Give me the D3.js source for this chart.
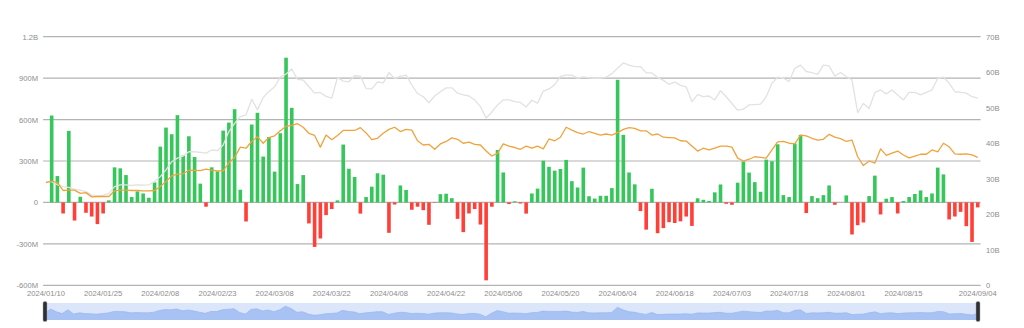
<!DOCTYPE html>
<html>
<head>
<meta charset="utf-8">
<script src="https://cdn.jsdelivr.net/npm/d3@7"></script>
<style>
  html, body { margin: 0; padding: 0; background: #fff; }
  svg { display: block; }
  text { font-family: "Liberation Sans", Arial, sans-serif; }
</style>
</head>
<body>
<svg id="chart" width="1024" height="328"></svg>
<script>
// Trading days on the category axis
const dates = [
  "2024/01/10","2024/01/11","2024/01/12","2024/01/16","2024/01/17","2024/01/18","2024/01/19","2024/01/22","2024/01/23","2024/01/24",
  "2024/01/25","2024/01/26","2024/01/29","2024/01/30","2024/01/31","2024/02/01","2024/02/02","2024/02/05","2024/02/06","2024/02/07",
  "2024/02/08","2024/02/09","2024/02/12","2024/02/13","2024/02/14","2024/02/15","2024/02/16","2024/02/20","2024/02/21","2024/02/22",
  "2024/02/23","2024/02/26","2024/02/27","2024/02/28","2024/02/29","2024/03/01","2024/03/04","2024/03/05","2024/03/06","2024/03/07",
  "2024/03/08","2024/03/11","2024/03/12","2024/03/13","2024/03/14","2024/03/15","2024/03/18","2024/03/19","2024/03/20","2024/03/21",
  "2024/03/22","2024/03/25","2024/03/26","2024/03/27","2024/03/28","2024/04/01","2024/04/02","2024/04/03","2024/04/04","2024/04/05",
  "2024/04/08","2024/04/09","2024/04/10","2024/04/11","2024/04/12","2024/04/15","2024/04/16","2024/04/17","2024/04/18","2024/04/19",
  "2024/04/22","2024/04/23","2024/04/24","2024/04/25","2024/04/26","2024/04/29","2024/04/30","2024/05/01","2024/05/02","2024/05/03",
  "2024/05/06","2024/05/07","2024/05/08","2024/05/09","2024/05/10","2024/05/13","2024/05/14","2024/05/15","2024/05/16","2024/05/17",
  "2024/05/20","2024/05/21","2024/05/22","2024/05/23","2024/05/24","2024/05/28","2024/05/29","2024/05/30","2024/05/31","2024/06/03",
  "2024/06/04","2024/06/05","2024/06/06","2024/06/07","2024/06/10","2024/06/11","2024/06/12","2024/06/13","2024/06/14","2024/06/17",
  "2024/06/18","2024/06/20","2024/06/21","2024/06/24","2024/06/25","2024/06/26","2024/06/27","2024/06/28","2024/07/01","2024/07/02",
  "2024/07/03","2024/07/05","2024/07/08","2024/07/09","2024/07/10","2024/07/11","2024/07/12","2024/07/15","2024/07/16","2024/07/17",
  "2024/07/18","2024/07/19","2024/07/22","2024/07/23","2024/07/24","2024/07/25","2024/07/26","2024/07/29","2024/07/30","2024/07/31",
  "2024/08/01","2024/08/02","2024/08/05","2024/08/06","2024/08/07","2024/08/08","2024/08/09","2024/08/12","2024/08/13","2024/08/14",
  "2024/08/15","2024/08/16","2024/08/19","2024/08/20","2024/08/21","2024/08/22","2024/08/23","2024/08/26","2024/08/27","2024/08/28",
  "2024/08/29","2024/08/30","2024/09/03","2024/09/04"
];

// Labelled dates on the x axis
const xTickLabels = [
  "2024/01/10","2024/01/25","2024/02/08","2024/02/23","2024/03/08","2024/03/22","2024/04/08","2024/04/22",
  "2024/05/06","2024/05/20","2024/06/04","2024/06/18","2024/07/03","2024/07/18","2024/08/01","2024/08/15","2024/09/04"
];

// Daily net flow, millions (left axis)
const netFlow = [
  null, 629, 191, -80, 518, -131, 41, -75, -102, -157,
  -80, 15, 254, 247, 198, 39, 80, 65, 34, 145,
  404, 542, 494, 632, 339, 479, 329, 136, -31, 254,
  225, 520, 578, 675, 92, -138, 564, 649, 332, 474,
  223, 501, 1048, 685, 133, 198, -152, -322, -261, -92,
  -48, 15, 419, 244, 184, -81, 39, 114, 211, 201,
  -220, -15, 123, 90, -53, -31, -56, -162, -3, 60,
  63, 31, -119, -215, -80, -48, -160, -564, -31, 380,
  217, -12, 8, -8, -81, 65, 100, 302, 258, 230,
  242, 308, 154, 108, 252, 45, 28, 48, 48, 104,
  888, 489, 217, 131, -63, -197, 99, -223, -186, -143,
  -149, -137, -102, -170, 30, 19, 11, 73, 130, -10,
  -17, 143, 296, 216, 147, 77, 310, 298, 421, 53,
  39, 426, 489, -77, 46, 31, 53, 123, -17, null,
  51, -232, -165, -145, 46, 194, -87, 27, 39, -80,
  10, 39, 61, 87, 39, 65, 252, 203, -123, -102,
  -68, -172, -286, -36
];

// Total net assets, billions (right axis, light grey line)
const netAssets = [
  29.2, 29.2, 28.3, 27.8, 27.6, 27.0, 26.8, 26.4, 25.4, 25.2,
  25.3, 25.9, 27.8, 28.3, 28.3, 28.1, 28.3, 28.2, 28.3, 29.2,
  30.6, 32.5, 34.8, 35.8, 36.4, 37.6, 37.6, 37.4, 37.2, 38.1,
  37.9, 39.5, 43.3, 45.6, 47.5, 48.0, 52.4, 49.4, 52.9, 54.6,
  55.9, 58.6, 59.5, 60.9, 58.0, 57.8, 55.9, 54.1, 54.3, 53.2,
  52.7, 58.5, 57.5, 57.3, 59.0, 58.9, 55.4, 55.3, 57.3, 57.0,
  59.9, 58.2, 58.9, 59.2, 56.4, 54.0, 53.1, 51.4, 53.3, 54.5,
  55.6, 55.6, 54.1, 53.6, 53.3, 52.2, 50.3, 47.1, 48.8, 50.8,
  52.2, 52.2, 51.7, 51.5, 50.2, 52.1, 51.3, 54.7, 55.3, 56.5,
  58.8, 59.2, 59.2, 58.3, 58.7, 58.4, 58.3, 58.3, 58.6, 59.6,
  61.1, 62.6, 62.0, 61.6, 61.6, 59.8, 59.8, 58.5, 57.7, 56.6,
  57.2, 56.3, 55.9, 51.7, 53.7, 53.1, 53.3, 52.2, 54.8, 53.1,
  51.2, 49.3, 49.6, 50.8, 50.9, 51.0, 53.1, 56.9, 58.6, 58.3,
  57.4, 61.1, 62.0, 60.2, 59.9, 59.4, 62.0, 61.8, 58.9, 59.9,
  58.8, 57.8, 48.6, 51.2, 49.8, 54.3, 55.0, 53.9, 55.0, 53.6,
  52.2, 54.3, 54.3, 53.6, 54.3, 55.0, 58.3, 58.6, 56.9, 54.5,
  54.3, 54.1, 53.1, 52.7
];

// Price line, right axis scale (orange line)
const priceLine = [
  28.9, 29.3, 28.9, 26.7, 26.8, 26.8, 25.9, 26.1, 24.9, 25.0,
  25.0, 25.0, 26.6, 26.8, 26.8, 26.7, 26.7, 26.6, 26.6, 26.7,
  27.8, 29.2, 30.8, 31.3, 31.4, 32.4, 32.4, 32.3, 32.7, 32.4,
  32.2, 32.2, 34.5, 36.0, 38.9, 38.6, 40.5, 41.8, 40.0, 41.6,
  42.1, 43.5, 44.8, 45.0, 45.5, 44.5, 42.8, 42.2, 38.9, 42.3,
  41.0, 42.2, 43.6, 43.6, 43.6, 44.4, 42.9, 41.0, 41.4, 42.8,
  43.9, 44.5, 43.3, 43.9, 43.7, 40.7, 39.5, 39.7, 38.3, 39.8,
  40.5, 41.5, 41.1, 40.0, 40.3, 39.7, 39.5, 37.8, 36.4, 37.2,
  39.8, 39.2, 38.8, 38.3, 39.2, 38.6, 39.2, 38.4, 41.2, 40.7,
  41.7, 44.5, 43.7, 43.0, 42.6, 43.3, 42.8, 42.3, 42.6, 42.3,
  43.0, 43.9, 44.4, 44.2, 43.5, 43.5, 42.3, 42.6, 41.7, 41.6,
  41.5, 40.7, 40.6, 39.2, 37.8, 38.6, 38.1, 38.6, 39.2, 39.2,
  38.9, 35.8, 35.0, 35.5, 36.2, 36.0, 35.8, 38.1, 40.4, 40.5,
  40.0, 39.8, 42.3, 42.1, 41.4, 40.9, 41.1, 42.5, 41.7, 41.3,
  40.5, 40.9, 36.2, 33.7, 35.0, 34.4, 38.4, 36.6, 37.2, 37.8,
  36.7, 35.9, 36.4, 36.9, 36.9, 38.1, 37.6, 40.0, 39.0, 37.0,
  36.9, 37.0, 36.7, 36.0
];

// Axis ticks
const leftTicks = [-600, -300, 0, 300, 600, 900, 1200];
const leftTickLabels = ["-600M", "-300M", "0", "300M", "600M", "900M", "1.2B"];
const rightTicks = [0, 10, 20, 30, 40, 50, 60, 70];
const rightTickLabels = ["0", "10B", "20B", "30B", "40B", "50B", "60B", "70B"];

// ---- layout ----
const W = 1024, H = 328;
const plot = { left: 43.1, right: 980.6, top: 36.7, bottom: 285.3 };
const slider = { left: 45, right: 978, top: 303, bottom: 320 };

const svg = d3.select("#chart");

const x = d3.scaleBand().domain(dates).range([plot.left, plot.right]).padding(0);
const bw = x.bandwidth();
const cx = d => x(d) + bw / 2;
const yL = d3.scaleLinear().domain([-600, 1200]).range([plot.bottom, plot.top]);
const yR = d3.scaleLinear().domain([0, 70]).range([plot.bottom, plot.top]);

// horizontal grid lines
svg.append("g").selectAll("line").data(leftTicks).join("line")
  .attr("x1", plot.left).attr("x2", plot.right)
  .attr("y1", d => yL(d)).attr("y2", d => yL(d))
  .attr("stroke", "#b3b3b3").attr("stroke-width", 1.2);

// left axis labels
const leftAxis = d3.axisLeft(yL).tickValues(leftTicks)
  .tickFormat((d, i) => leftTickLabels[i]).tickSize(0).tickPadding(5);
svg.append("g").attr("transform", `translate(${plot.left},0)`).call(leftAxis)
  .call(g => g.select(".domain").remove())
  .selectAll("text").attr("fill", "#8c8c8c").style("font-size", "7.6px");

// right axis labels
const rightAxis = d3.axisRight(yR).tickValues(rightTicks)
  .tickFormat((d, i) => rightTickLabels[i]).tickSize(0).tickPadding(5.5);
svg.append("g").attr("transform", `translate(${plot.right},0)`).call(rightAxis)
  .call(g => g.select(".domain").remove())
  .selectAll("text").attr("fill", "#8c8c8c").style("font-size", "7.6px");

// bottom axis labels
const bottomAxis = d3.axisBottom(x).tickValues(xTickLabels).tickSize(0).tickPadding(5);
svg.append("g").attr("transform", `translate(0,${plot.bottom})`).call(bottomAxis)
  .call(g => g.select(".domain").remove())
  .selectAll("text").attr("fill", "#8c8c8c").style("font-size", "7.6px");

// net flow bars
const barW = bw * 0.63;
const flowData = dates.map((d, i) => ({ d, v: netFlow[i] })).filter(p => p.v !== null && p.v !== 0);
svg.append("g").selectAll("rect").data(flowData).join("rect")
  .attr("x", p => cx(p.d) - barW / 2)
  .attr("width", barW)
  .attr("y", p => Math.min(yL(p.v), yL(0)))
  .attr("height", p => Math.abs(yL(p.v) - yL(0)))
  .attr("fill", p => p.v >= 0 ? "#35c759" : "#ff4038");

// lines on the right axis
const lineR = d3.line().x((v, i) => cx(dates[i])).y(v => yR(v));
svg.append("path").datum(netAssets)
  .attr("d", lineR).attr("fill", "none")
  .attr("stroke", "#e2e2e2").attr("stroke-width", 1.3).attr("stroke-linejoin", "round");
svg.append("path").datum(priceLine)
  .attr("d", lineR).attr("fill", "none")
  .attr("stroke", "#f0a33c").attr("stroke-width", 1.3).attr("stroke-linejoin", "round");

// ---- zoom slider with data shadow ----
const sg = svg.append("g");
const sw = slider.right - slider.left, sh = slider.bottom - slider.top;
sg.append("rect").attr("x", slider.left).attr("y", slider.top)
  .attr("width", sw).attr("height", sh).attr("fill", "#dce6fa");

const ext = d3.extent(netFlow.filter(v => v !== null));
const pad = (ext[1] - ext[0]) * 0.3;
const sx = d3.scalePoint().domain(dates).range([slider.left, slider.right]);
const sy = d3.scaleLinear().domain([ext[0] - pad, ext[1] + pad]).range([slider.bottom, slider.top]);
const shadowVals = netFlow.map(v => v === null ? 0 : v);
const area = d3.area().x((v, i) => sx(dates[i])).y0(slider.bottom).y1(v => sy(v));
sg.append("path").datum(shadowVals).attr("d", area).attr("fill", "#a8c2f4");
sg.append("path").datum(shadowVals)
  .attr("d", d3.line().x((v, i) => sx(dates[i])).y(v => sy(v)))
  .attr("fill", "none").attr("stroke", "#8fb0f0").attr("stroke-width", 0.6);

// handles
[slider.left, slider.right].forEach(hx => {
  sg.append("rect").attr("x", hx - 2).attr("y", slider.top - 1.5)
    .attr("width", 4).attr("height", sh + 3).attr("rx", 1.5)
    .attr("fill", "#2f2f2f").attr("stroke", "#9aa4b8").attr("stroke-width", 0.5);
});
</script>
</body>
</html>
